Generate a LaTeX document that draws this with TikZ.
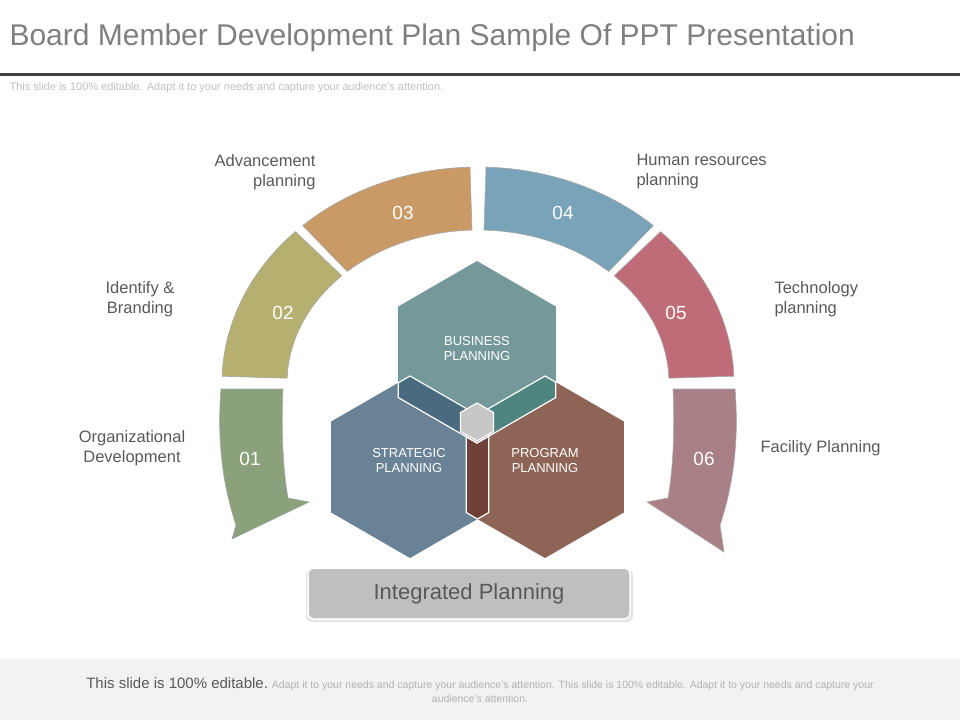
\documentclass[tikz,border=0pt]{standalone}
\usepackage{fontspec}
\setmainfont{Liberation Sans}
\definecolor{cone}{HTML}{8AA17C}
\definecolor{ctwo}{HTML}{B5B070}
\definecolor{cthree}{HTML}{C99A66}
\definecolor{cfour}{HTML}{79A3B8}
\definecolor{cfive}{HTML}{C06B78}
\definecolor{csix}{HTML}{A88085}
\definecolor{cbus}{HTML}{75999A}
\definecolor{cstr}{HTML}{6A8296}
\definecolor{cprg}{HTML}{8E6456}
\definecolor{cbusstr}{HTML}{4A6A80}
\definecolor{cbusprg}{HTML}{4E857F}
\definecolor{cstrprg}{HTML}{6E4038}
\definecolor{txtgray}{HTML}{7F7F7F}
\newcommand{\segm}[3]{%
  \filldraw[fill=#3,draw=black!35,line width=0.6pt]
    plot[domain=#1:#2,samples=24] ({478+256*cos(\x)},{383-216*sin(\x)})
    -- plot[domain=#2:#1,samples=24] ({478+191*cos(\x)},{383-153*sin(\x)}) -- cycle;}
\newcommand{\hexat}[1]{(#1) +(30:91) -- +(90:91) -- +(150:91) -- +(210:91) -- +(270:91) -- +(330:91) -- cycle}
\tikzset{
  num/.style={text=white,font=\fontsize{19}{19}\selectfont},
  lbl/.style={text=black!65,font=\fontsize{16.5}{20}\selectfont,align=#1},
  lbl/.default=left,
  hextxt/.style={text=white,font=\fontsize{13}{15}\selectfont,align=center}
}
\begin{document}
\begin{tikzpicture}[x=1pt,y=-1pt]
\useasboundingbox (0,0) rectangle (960,720);
% header
\node[anchor=west,text=txtgray,font=\fontsize{30}{30}\selectfont] (title) at (6,38) {Board Member Development Plan Sample Of PPT Presentation};
\fill[black!75] (0,72.5) rectangle (960,75.5);
\node[anchor=west,text=black!25,font=\fontsize{11}{11}\selectfont] (sub) at (6,88) {This slide is 100\% editable. Adapt it to your needs and capture your audience's attention.};
% ring segments
\segm{135.5}{178.2}{ctwo}
\segm{91.8}{133.2}{cthree}
\segm{46.8}{88.2}{cfour}
\segm{1.8}{44.5}{cfive}
\filldraw[fill=cone,draw=black!35,line width=0.6pt] (221,389) -- (283,389)
  .. controls (281,430) and (283,470) .. (288,498) -- (309,502) -- (232,539) -- (236,525)
  .. controls (226,495) and (216,450) .. cycle;
\filldraw[fill=csix,draw=black!35,line width=0.6pt] (735,389) -- (673,389)
  .. controls (675,430) and (673,470) .. (668,498) -- (647,502) -- (724,552) -- (720,525)
  .. controls (730,495) and (740,450) .. cycle;
\node[num] (n01) at (250,459) {01};
\node[num] (n02) at (283,313) {02};
\node[num] (n03) at (403,213) {03};
\node[num] (n04) at (563,213) {04};
\node[num] (n05) at (676,313) {05};
\node[num] (n06) at (704,459) {06};
% hexagons
\coordinate (bc) at (477,352);
\coordinate (sc) at (410,467);
\coordinate (pc) at (545,467);
\fill[cstr] \hexat{sc};
\fill[cprg] \hexat{pc};
\fill[cbus] \hexat{bc};
\begin{scope}
  \clip \hexat{bc};
  \fill[cbusstr] \hexat{sc};
  \fill[cbusprg] \hexat{pc};
  \draw[white,line width=1.2pt] \hexat{sc} \hexat{pc};
\end{scope}
\begin{scope}
  \clip \hexat{sc};
  \fill[cstrprg] \hexat{pc};
  \draw[white,line width=1.2pt] \hexat{bc} \hexat{pc};
\end{scope}
\begin{scope}
  \clip \hexat{pc};
  \draw[white,line width=1.2pt] \hexat{bc} \hexat{sc};
\end{scope}
\filldraw[fill=black!22,draw=white,line width=1.2pt] (477,422) +(30:19) -- +(90:19) -- +(150:19) -- +(210:19) -- +(270:19) -- +(330:19) -- cycle;
\node[hextxt] (bus) at (477,349) {BUSINESS\\PLANNING};
\node[hextxt] (str) at (409,461) {STRATEGIC\\PLANNING};
\node[hextxt] (prg) at (545,461) {PROGRAM\\PLANNING};
% labels
\node[lbl=right,anchor=east] (adv) at (319,172) {Advancement\\planning};
\node[lbl,anchor=west] (hr) at (633,172) {Human resources\\planning};
\node[lbl=center] (idb) at (140,299) {Identify \&\\Branding};
\node[lbl,anchor=west] (tech) at (771,299) {Technology\\planning};
\node[lbl=center] (org) at (132,448) {Organizational\\Development};
\node[lbl,anchor=west] (fac) at (757,448) {Facility Planning};
% bottom box
\fill[black!10,rounded corners=6pt] (306,569) rectangle (633,622);
\filldraw[fill=black!25,draw=white,line width=1.5pt,rounded corners=6pt] (308,568) rectangle (630,619);
\node[text=black!65,font=\fontsize{22}{22}\selectfont] (ip) at (469,594) {Integrated Planning};
% footer
\fill[black!5] (0,659) rectangle (960,720);
\node[align=center,text=black!30,font=\fontsize{10.5}{14}\selectfont] (foot) at (480,690)
  {{\color{black!65}\fontsize{15}{14}\selectfont This slide is 100\% editable.} Adapt it to your needs and capture your audience's attention. This slide is 100\% editable. Adapt it to your needs and capture your\\audience's attention.};
\end{tikzpicture}
\end{document}
